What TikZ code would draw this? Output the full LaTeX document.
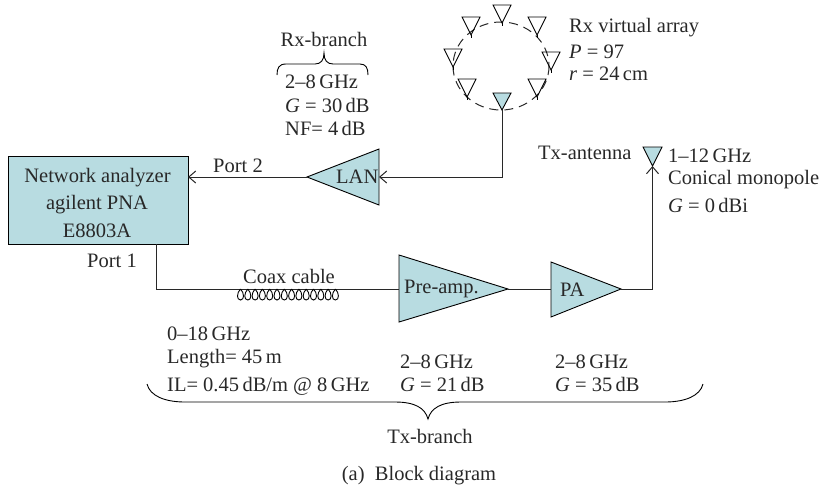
\documentclass[tikz,border=0pt]{standalone}
\usepackage{fontspec}
\setmainfont{Liberation Serif}
\usetikzlibrary{arrows.meta,calc}
\definecolor{fillc}{RGB}{184,220,225}
\definecolor{ln}{RGB}{40,40,40}
\tikzset{
 txt/.style={inner sep=0pt,anchor=base west,text=ln,font=\fontsize{20.5}{24}\selectfont},
 ctxt/.style={inner sep=0pt,anchor=base,text=ln,font=\fontsize{20.5}{24}\selectfont},
 wire/.style={draw=ln,line width=1pt},
 arr/.style={wire,-{Straight Barb[length=7pt,width=12pt]}},
 tri/.style={draw=black,line width=.9pt},
 cbrace/.style={draw=black,line width=.9pt}
}
\begin{document}
\begin{tikzpicture}[x=1pt,y=-1pt]
\useasboundingbox (0,0) rectangle (824,488);
% array
\draw[wire,dashed,dash pattern=on 9pt off 6pt] (501,66) ellipse [x radius=48,y radius=44];
\foreach \x/\y in {502/23,471/35,537/35,453/67,551/70,467/97,537/97}{
 \draw[tri] (\x-9,\y-18)--(\x+9,\y-18)--(\x,\y)--cycle;
 \draw[tri] (\x,\y)--(\x,\y+3);}
\draw[tri,fill=fillc] (493,93)--(511,93)--(502,110)--cycle;
\coordinate (rxant) at (502,110);
% network analyzer
\node[draw=black,line width=.9pt,fill=fillc,minimum width=180pt,minimum height=88pt,inner sep=0pt] (na) at (98,200) {};
\node[ctxt] (na1) at (97.5,182) {Network analyzer};
\node[ctxt] (na2) at (97,209) {agilent PNA};
\node[ctxt] (na3) at (97,237) {E8803A};
\coordinate (naport1) at (156,244);
\coordinate (naport2) at (188,177);
% amplifiers
\draw[tri,fill=fillc] (379,149)--(379,205)--(307,177)--cycle;
\coordinate (lanbase) at (379,177); \coordinate (lantip) at (307,177);
\node[txt] (lan) at (336,183) {LAN};
\draw[tri,fill=fillc] (399,255)--(399,322)--(508,289)--cycle;
\coordinate (prebase) at (399,289); \coordinate (pretip) at (508,289);
\node[txt] (pre) at (404,293) {Pre-amp.};
\draw[tri,fill=fillc] (551,262)--(551,317)--(621,289)--cycle;
\coordinate (pabase) at (551,289); \coordinate (patip) at (621,289);
\node[txt] (pa) at (560,296) {PA};
% tx antenna
\draw[tri,fill=fillc] (643,147)--(662,147)--(652.5,166)--cycle;
\coordinate (txant) at (652.5,166);
% wires
\draw[arr] (rxant)--(502,177)--(lanbase);
\draw[arr] (lantip)--(naport2);
\draw[wire] (naport1)--(156,289)--(prebase);
\draw[wire] (pretip)--(pabase);
\draw[arr] (patip)--(652.5,289)--(txant);
% coil
\foreach \i in {0,...,13}{
 \pgfmathsetmacro{\cx}{240.5+7.3*\i}
 \pgfmathsetmacro{\ca}{\cx-4}
 \pgfmathsetmacro{\cb}{\cx+4}
 \draw[black,line width=.9pt] (\cx,289) .. controls (\cb,293) and (\cb,300) .. (\cx,300) .. controls (\ca,300) and (\ca,293) .. (\cx,289);}
% labels
\node[ctxt] (p2) at (238,172) {Port 2};
\node[ctxt] (p1) at (112,267) {Port 1};
\node[ctxt] (coax) at (289,283) {Coax cable};
\node[ctxt] (rxb) at (324,46) {Rx-branch};
\draw[cbrace] (277,75) .. controls (277,68) and (279,64) .. (286,64) -- (315,64) .. controls (321,64) and (324,60) .. (324,53) .. controls (324,60) and (327,64) .. (333,64) -- (360,64) .. controls (366,64) and (368,68) .. (368,75);
\node[txt] (rx1) at (285,88) {2–8\,GHz};
\node[txt] (rx2) at (285,112) {\textit{G} = 30\,dB};
\node[txt] (rx3) at (285,135) {NF= 4\,dB};
\node[txt] (va1) at (569,32) {Rx virtual array};
\node[txt] (va2) at (569,58) {\textit{P} = 97};
\node[txt] (va3) at (569,80) {\textit{r} = 24\,cm};
\node[txt] (t0) at (538,159) {Tx-antenna};
\node[txt] (t1) at (668,162) {1–12\,GHz};
\node[txt] (t2) at (668,184) {Conical monopole};
\node[txt] (t3) at (668,212) {\textit{G} = 0\,dBi};
\node[txt] (c1) at (167,340) {0–18\,GHz};
\node[txt] (c2) at (167,363) {Length= 45\,m};
\node[txt] (c3) at (167,391) {IL= 0.45\,dB/m @ 8\,GHz};
\node[txt] (a1) at (400,368) {2–8\,GHz};
\node[txt] (a2) at (400,391) {\textit{G} = 21\,dB};
\node[txt] (b1) at (555,368) {2–8\,GHz};
\node[txt] (b2) at (555,391) {\textit{G} = 35\,dB};
\draw[cbrace] (147,384) .. controls (150,396) and (165,402) .. (185,402) -- (395,402) .. controls (415,402) and (425,408) .. (428,419) .. controls (431,408) and (441,402) .. (461,402) -- (665,402) .. controls (685,402) and (700,396) .. (703,384);
\node[ctxt] (tb) at (430,443) {Tx-branch};
\node[ctxt] (cap) at (419,480) {(a)\ \ Block diagram};
\end{tikzpicture}
\end{document}
